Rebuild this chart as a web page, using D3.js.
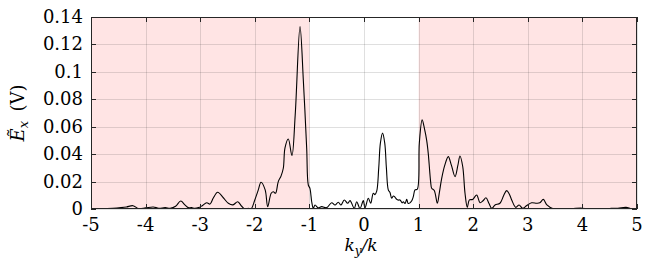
<!DOCTYPE html>
<html><head><meta charset="utf-8">
<script src="https://cdn.jsdelivr.net/npm/d3@7"></script>
<style>body{margin:0;background:#fff}svg{display:block}</style>
</head><body>
<svg id="c" width="654" height="259"></svg>
<script>
const kx = [-5.00,-4.80,-4.60,-4.45,-4.35,-4.23,-4.13,-4.00,-3.86,-3.76,-3.64,-3.55,-3.45,-3.357,-3.28,-3.22,-3.16,-3.10,-3.03,-2.97,-2.88,-2.82,-2.76,-2.68,-2.577,-2.485,-2.40,-2.313,-2.24,-2.18,-2.12,-2.07,-2.00,-1.936,-1.886,-1.81,-1.764,-1.70,-1.66,-1.62,-1.57,-1.52,-1.478,-1.447,-1.386,-1.32,-1.26,-1.172,-1.11,-1.05,-1.02,-0.99,-0.958,-0.929,-0.897,-0.837,-0.775,-0.683,-0.592,-0.531,-0.471,-0.421,-0.361,-0.299,-0.256,-0.178,-0.134,-0.073,-0.013,0.018,0.079,0.123,0.170,0.20,0.233,0.27,0.30,0.34,0.38,0.41,0.445,0.476,0.507,0.537,0.57,0.60,0.628,0.66,0.70,0.72,0.751,0.782,0.81,0.842,0.875,0.903,0.934,0.976,1.013,1.065,1.11,1.148,1.178,1.22,1.24,1.287,1.343,1.38,1.423,1.48,1.544,1.60,1.667,1.72,1.758,1.808,1.85,1.892,1.93,1.99,2.064,2.125,2.18,2.234,2.29,2.34,2.40,2.49,2.56,2.613,2.66,2.705,2.78,2.84,2.906,2.98,3.07,3.163,3.22,3.284,3.35,3.467,3.6,3.8,3.99,4.1,4.3,4.5,4.65,4.80,4.9,5.0];
const ex = [0.0003,0.0002,0.0005,0.001,0.0015,0.0024,0.0003,0.0008,0.0015,0.0005,0.001,0.0005,0.002,0.0058,0.003,0.001,0.001,0.0005,0.001,0.0022,0.0046,0.0036,0.008,0.0122,0.0082,0.0042,0.003,0.0053,0.002,0.0,0.0005,0.0,0.0066,0.0139,0.0195,0.0139,0.0017,0.0115,0.0126,0.0115,0.02,0.024,0.0297,0.0445,0.051,0.039,0.0686,0.133,0.093,0.0445,0.0175,0.015,0.0053,0.0005,0.0029,0.0008,0.0017,0.001,0.0046,0.0029,0.0049,0.0029,0.0066,0.0042,0.0061,0.0005,0.0053,0.0003,0.0061,0.0008,0.0078,0.0042,0.0115,0.0105,0.013,0.03,0.048,0.0553,0.048,0.03,0.014,0.012,0.0078,0.0095,0.0085,0.007,0.0065,0.0066,0.0045,0.0053,0.004,0.007,0.004,0.0045,0.006,0.009,0.0139,0.0144,0.048,0.065,0.058,0.050,0.040,0.02,0.0151,0.0135,0.0042,0.012,0.0224,0.032,0.0382,0.032,0.0236,0.032,0.0387,0.031,0.0115,0.0012,0.0066,0.007,0.0102,0.0046,0.006,0.0082,0.004,0.0005,0.0029,0.0042,0.010,0.0134,0.011,0.0066,0.0012,0.0029,0.0005,0.0025,0.0045,0.0042,0.0045,0.007,0.003,0.0002,0.0002,0.0003,0.0006,0.0002,0.0003,0.0004,0.0006,0.0012,0.0003,0.0004];
const xTicks = [-5,-4,-3,-2,-1,0,1,2,3,4,5];
const yTicks = [0,0.02,0.04,0.06,0.08,0.1,0.12,0.14];
const yTickLabels = ["0","0.02","0.04","0.06","0.08","0.1","0.12","0.14"];
const shaded = [[-5,-1],[1,5]];

const W=654,H=259, m={l:91,r:17,t:17,b:50};
const FONT="'DejaVu Serif'";
const svg=d3.select("#c");
const x=d3.scaleLinear().domain([-5,5]).range([m.l,W-m.r]);
const y=d3.scaleLinear().domain([0,0.14]).range([H-m.b,m.t]);

svg.append("g").selectAll("rect").data(shaded).join("rect")
  .attr("x",d=>x(d[0])).attr("width",d=>x(d[1])-x(d[0]))
  .attr("y",m.t).attr("height",H-m.b-m.t).attr("fill","#ffe4e4");

const grid=svg.append("g").attr("stroke","#262626").attr("stroke-opacity",0.15).attr("stroke-width",1);
grid.selectAll(".gx").data(xTicks).join("line")
  .attr("x1",d=>Math.round(x(d))+0.5).attr("x2",d=>Math.round(x(d))+0.5).attr("y1",m.t).attr("y2",H-m.b);
grid.selectAll(".gy").data(yTicks).join("line")
  .attr("y1",d=>Math.round(y(d))+0.5).attr("y2",d=>Math.round(y(d))+0.5).attr("x1",m.l).attr("x2",W-m.r);

svg.append("clipPath").attr("id","clip").append("rect")
  .attr("x",m.l).attr("y",m.t-2).attr("width",W-m.l-m.r).attr("height",H-m.b-m.t+2);
const pts=kx.map((v,i)=>[v,ex[i]]);
svg.append("path").datum(pts).attr("clip-path","url(#clip)")
  .attr("fill","none").attr("stroke","#000").attr("stroke-width",1.1)
  .attr("d",d3.line().x(d=>x(d[0])).y(d=>y(d[1])).curve(d3.curveCatmullRom.alpha(0.5)));

const tl=5;
const ax=svg.append("g").attr("stroke","#262626").attr("stroke-width",1);
ax.append("rect").attr("x",m.l+0.5).attr("y",m.t+0.5).attr("width",W-m.l-m.r-1).attr("height",H-m.b-m.t-1).attr("fill","none");
xTicks.forEach(t=>{const px=Math.round(x(t))+0.5;
  ax.append("line").attr("x1",px).attr("x2",px).attr("y1",H-m.b).attr("y2",H-m.b-tl);
  ax.append("line").attr("x1",px).attr("x2",px).attr("y1",m.t).attr("y2",m.t+tl);});
yTicks.forEach(t=>{const py=Math.round(y(t))+0.5;
  ax.append("line").attr("y1",py).attr("y2",py).attr("x1",m.l).attr("x2",m.l+tl);
  ax.append("line").attr("y1",py).attr("y2",py).attr("x1",W-m.r).attr("x2",W-m.r-tl);});

svg.append("g").selectAll("text").data(xTicks).join("text")
  .attr("x",d=>x(d)).attr("y",H-m.b+22).attr("text-anchor","middle")
  .style("font-family",FONT).style("font-size","18px").attr("fill","#000").text(d=>d);
svg.append("g").selectAll("text").data(yTicks).join("text")
  .attr("x",m.l-8).attr("y",d=>y(d)+6).attr("text-anchor","end")
  .style("font-family",FONT).style("font-size","18px").attr("fill","#000").text((d,i)=>yTickLabels[i]);

const xl=svg.append("text").attr("x",x(0)-3).attr("y",H-8).attr("text-anchor","middle")
  .style("font-family",FONT).style("font-size","17px").attr("fill","#000");
xl.append("tspan").style("font-style","italic").text("k");
xl.append("tspan").style("font-style","italic").style("font-size","12px").attr("dy",4).text("y");
xl.append("tspan").attr("dy",-4).style("font-style","italic").text("/k");

const yl=svg.append("text").attr("transform",`translate(24,${(m.t+H-m.b)/2}) rotate(-90)`)
  .attr("text-anchor","middle").style("font-family",FONT).style("font-size","18px").attr("fill","#000");
yl.append("tspan").style("font-style","italic").text("Ẽ");
yl.append("tspan").style("font-style","italic").style("font-size","13px").attr("dy",4).text("x");
yl.append("tspan").attr("dy",-4).text("\u2009 (V)");
</script>
</body></html>
